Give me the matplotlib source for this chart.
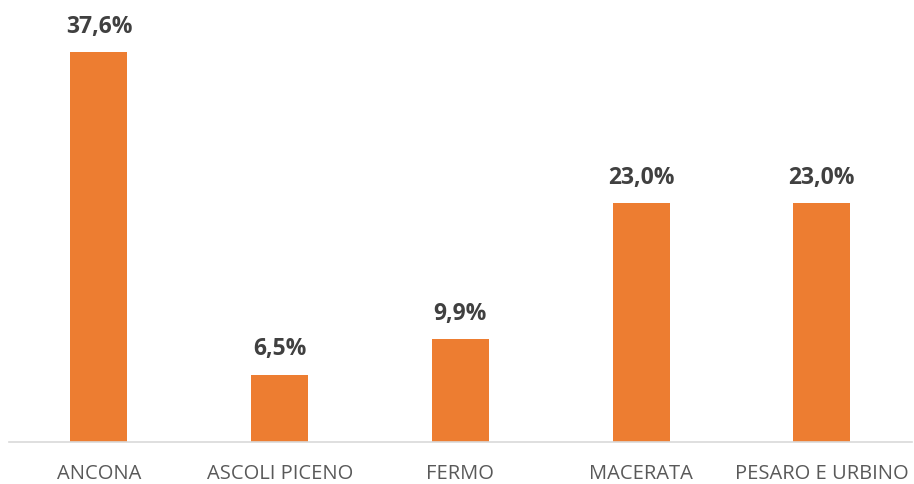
import matplotlib
matplotlib.use("Agg")
import matplotlib.pyplot as plt

plt.rcParams['font.family'] = ['Open Sans', 'DejaVu Sans']

province = ['ANCONA', 'ASCOLI PICENO', 'FERMO', 'MACERATA', 'PESARO E URBINO']
quote = [37.6, 6.5, 9.9, 23.0, 23.0]
etichette = ['37,6%', '6,5%', '9,9%', '23,0%', '23,0%']

fig = plt.figure(figsize=(9.14, 4.84), dpi=100)
ax = fig.add_axes([0.0094, 0.0868, 0.9886, 0.857])

x = range(len(province))
bars = ax.bar(x, quote, width=0.315, color='#ED7D31', zorder=2)

for b, txt in zip(bars, etichette):
    ax.annotate(txt, (b.get_x() + b.get_width() / 2, b.get_height()),
                xytext=(0, 9.5), textcoords='offset points',
                ha='center', va='bottom', fontsize=16.5, fontweight='bold',
                color='#404040')

ax.set_xlim(-0.5, 4.5)
ax.set_ylim(0, 40)
ax.set_xticks(list(x))
ax.set_xticklabels(province, fontsize=14.5, color='#595959')
ax.tick_params(axis='x', length=0, pad=16)
ax.set_yticks([])
for s in ['top', 'left', 'right']:
    ax.spines[s].set_visible(False)
ax.spines['bottom'].set_color('#D9D9D9')
ax.spines['bottom'].set_linewidth(1.2)
ax.spines['bottom'].set_zorder(3)

fig.savefig('out.png', dpi=100)
